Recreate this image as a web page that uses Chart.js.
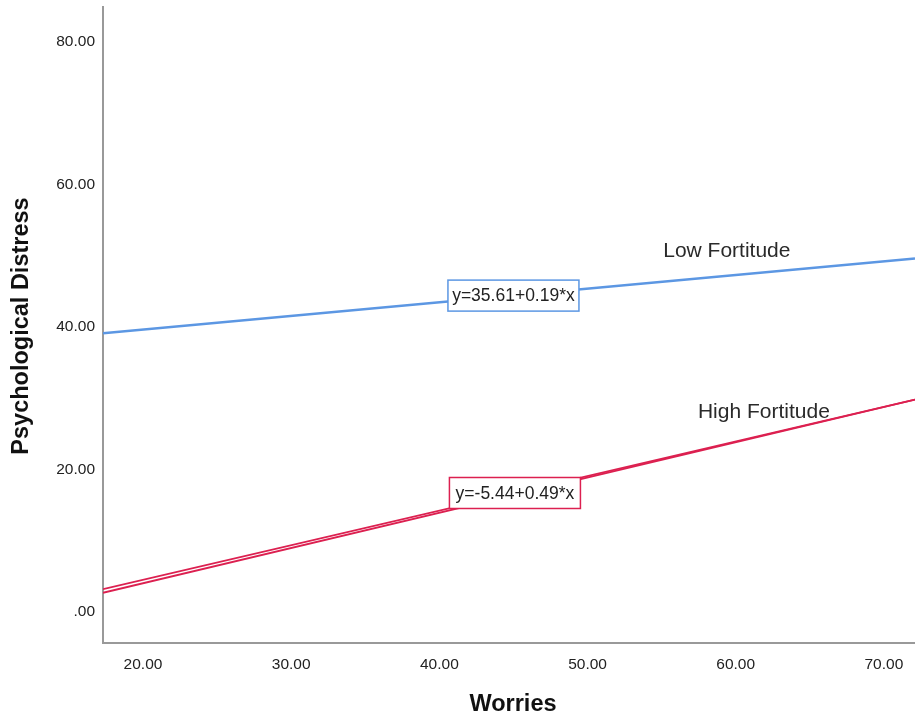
<!DOCTYPE html>
<html>
<head>
<meta charset="utf-8">
<script src="https://cdn.jsdelivr.net/npm/chart.js@4"></script>
<style>
html,body{margin:0;padding:0;background:#fff;}
#wrap{width:915px;height:715px;position:relative;}
</style>
</head>
<body>
<div id="wrap"><canvas id="c" width="915" height="715"></canvas></div>
<script>
// ---- data ----
const lowFortX = [17.3, 72.1];
const lowFortY = [39.1, 49.6];
const highFortX = [17.3, 72.1];
const highFortY = [3.2, 29.8];
const highFort2Y = [2.7, 29.8];
const xTicks = [20, 30, 40, 50, 60, 70];
const yTicks = [0, 20, 40, 60, 80];
const seriesNames = ['Low Fortitude', 'High Fortitude'];
const equations = ['y=35.61+0.19*x', 'y=-5.44+0.49*x'];

const BLUE = '#5c97e3';
const RED = '#dc2050';
const FONT = '"Liberation Sans", Arial, sans-serif';

function pts(xs, ys){ return xs.map((x,i)=>({x:x, y:ys[i]})); }
function fmt(v){ const s = v.toFixed(2); return s.startsWith('0.') ? s.slice(1) : s; }

const annot = {
  id: 'annot',
  afterDatasetsDraw(chart){
    const ctx = chart.ctx, xs = chart.scales.x, ys = chart.scales.y;
    ctx.save();
    // series labels
    ctx.font = '21px ' + FONT;
    ctx.fillStyle = '#2a2a2a';
    ctx.textAlign = 'center';
    ctx.textBaseline = 'middle';
    ctx.fillText(seriesNames[0], xs.getPixelForValue(59.4), ys.getPixelForValue(50.7));
    ctx.fillText(seriesNames[1], xs.getPixelForValue(61.9), ys.getPixelForValue(28.1));
    // equation boxes
    const boxes = [
      {t: equations[0], x: 45.0, y: 44.4, c: BLUE},
      {t: equations[1], x: 45.1, y: 16.7, c: RED}
    ];
    ctx.font = '17.5px ' + FONT;
    boxes.forEach(b=>{
      const cx = xs.getPixelForValue(b.x), cy = ys.getPixelForValue(b.y);
      const w = 131, h = 31;
      ctx.fillStyle = '#fff';
      ctx.fillRect(cx - w/2, cy - h/2, w, h);
      ctx.strokeStyle = b.c;
      ctx.lineWidth = 1.5;
      ctx.strokeRect(cx - w/2, cy - h/2, w, h);
      ctx.fillStyle = '#222';
      ctx.fillText(b.t, cx, cy + 1);
    });
    // axis titles
    ctx.font = 'bold 23.5px ' + FONT;
    ctx.fillStyle = '#111';
    ctx.fillText('Worries', 513, 705);
    ctx.translate(22, 326);
    ctx.rotate(-Math.PI/2);
    ctx.fillText('Psychological Distress', 0, 0);
    ctx.restore();
  }
};

new Chart(document.getElementById('c'), {
  type: 'scatter',
  data: {
    datasets: [
      {data: pts(lowFortX, lowFortY), showLine: true, borderColor: BLUE, borderWidth: 2.5, pointRadius: 0, fill: false},
      {data: pts(highFortX, highFortY), showLine: true, borderColor: RED, borderWidth: 1.8, pointRadius: 0, fill: false},
      {data: pts(highFortX, highFort2Y), showLine: true, borderColor: RED, borderWidth: 1.8, pointRadius: 0, fill: false}
    ]
  },
  options: {
    responsive: false,
    animation: false,
    layout: {padding: {top: 7, right: 0, left: 0, bottom: 0}},
    plugins: {legend: {display: false}, tooltip: {enabled: false}},
    scales: {
      x: {
        type: 'linear', min: 17.3, max: 72.1,
        afterBuildTicks(s){ s.ticks = xTicks.map(v=>({value:v})); },
        afterFit(s){ s.height = 72; s.paddingLeft = 0; s.paddingRight = 0; },
        grid: {display: false, drawTicks: false},
        border: {display: true, color: '#999', width: 2},
        ticks: {padding: 12, color: '#222', font: {size: 15.5, family: FONT}, maxRotation: 0, callback: v=>fmt(v)}
      },
      y: {
        type: 'linear', min: -4.35, max: 84.9,
        afterBuildTicks(s){ s.ticks = yTicks.map(v=>({value:v})); },
        afterFit(s){ s.width = 103; s.paddingTop = 0; s.paddingBottom = 0; },
        grid: {display: false, drawTicks: false},
        border: {display: true, color: '#999', width: 2},
        ticks: {padding: 8, color: '#222', font: {size: 15.5, family: FONT}, callback: v=>fmt(v)}
      }
    }
  },
  plugins: [annot]
});
</script>
</body>
</html>
